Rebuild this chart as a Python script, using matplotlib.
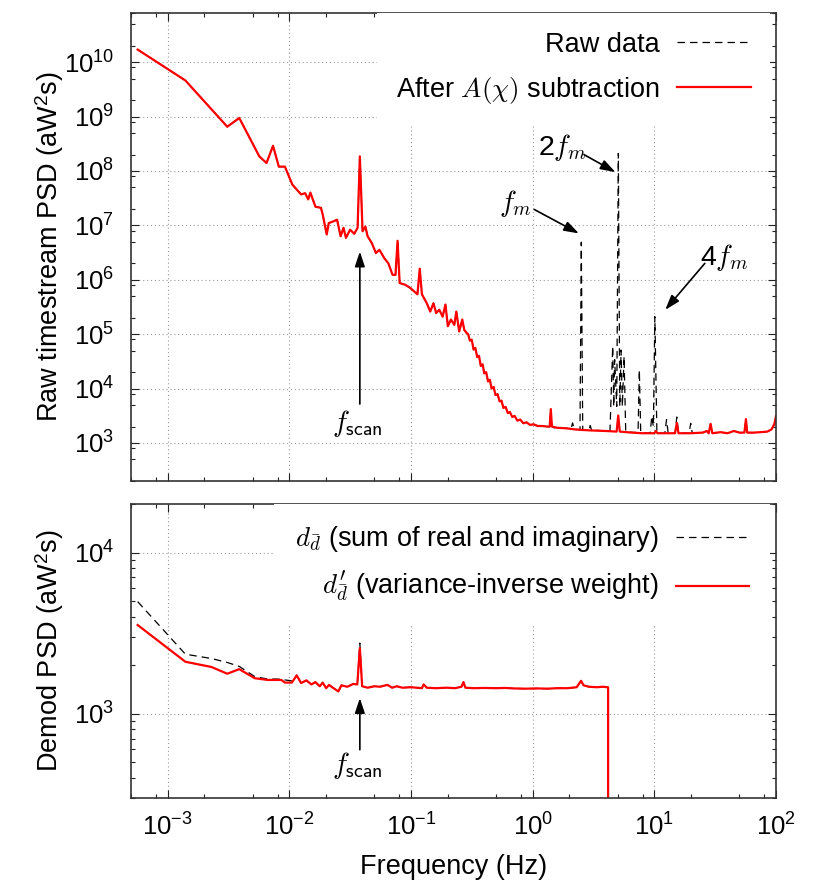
import numpy as np
import matplotlib
matplotlib.use("Agg")
import matplotlib.pyplot as plt
from matplotlib.ticker import LogLocator, NullFormatter

plt.rcParams['font.family'] = ['Liberation Sans', 'DejaVu Sans']
plt.rcParams['mathtext.fontset'] = 'custom'
plt.rcParams['mathtext.rm'] = 'Liberation Sans'
plt.rcParams['mathtext.sf'] = 'Liberation Sans'
plt.rcParams['mathtext.it'] = 'Liberation Serif:italic'
plt.rcParams['mathtext.bf'] = 'Liberation Sans:bold'

# ---------------- data ----------------
# Top panel: PSD after A(chi) subtraction (red)
after_freq = [5.67e-4, 1.40e-3, 3.09e-3, 3.88e-3, 5.67e-3, 6.5e-3, 7.35e-3, 8.2e-3, 9.2e-3,
              1.06e-2, 1.25e-2, 1.35e-2, 1.43e-2, 1.49e-2, 1.64e-2, 1.82e-2, 1.88e-2, 2.03e-2, 2.11e-2,
              2.34e-2, 2.47e-2, 2.64e-2, 2.79e-2, 2.92e-2, 3.16e-2, 3.42e-2, 3.64e-2, 3.80e-2, 4.00e-2,
              4.22e-2, 4.40e-2, 4.76e-2, 5.15e-2, 5.50e-2, 6.03e-2, 6.52e-2, 7.06e-2, 7.46e-2, 7.76e-2,
              8.07e-2, 8.95e-2, 9.84e-2, 0.109, 0.113, 0.118, 0.123, 0.135, 0.144, 0.153, 0.161, 0.171,
              0.182, 0.192, 0.201, 0.213, 0.227, 0.236, 0.249, 0.264, 0.274, 0.287,
              0.295, 0.305, 0.316, 0.327, 0.338, 0.350, 0.362, 0.375, 0.388, 0.40, 0.415, 0.43, 0.445,
              0.46, 0.478, 0.495, 0.515, 0.535, 0.555, 0.575, 0.60, 0.625, 0.65, 0.68, 0.71, 0.75, 0.79,
              0.84, 0.89, 0.95, 1.02, 1.10, 1.20, 1.32, 1.38, 1.41, 1.44, 1.6, 1.9, 2.2, 2.5, 3.0, 4.0,
              4.9, 5.05, 5.2, 6.5, 8.0, 10.0, 10.3, 10.6, 12.0, 14.8, 15.3, 15.8, 20, 25, 27, 28, 29, 30,
              35, 40, 45, 50, 55, 56.6, 58, 65, 75, 85, 92, 97, 100]
after_psd = [1.7e10, 4.6e9, 6.5e8, 9.4e8, 1.85e8, 1.4e8, 2.9e8, 1.2e8, 1.2e8,
             5.6e7, 3.7e7, 3.9e7, 3.0e7, 4.0e7, 2.2e7, 2.1e7, 1.6e7, 6.8e6, 1.1e7,
             1.2e7, 1.27e7, 6.3e6, 9.0e6, 5.9e6, 8.3e6, 7.0e6, 9.0e6, 1.85e8, 7.8e6,
             9.5e6, 6.3e6, 4.75e6, 3.1e6, 3.55e6, 2.5e6, 2.0e6, 1.23e6, 1.23e6, 5.2e6,
             8.7e5, 8.1e5, 7.1e5, 5.8e5, 5.4e5, 1.6e6, 5.4e5, 3.7e5, 2.6e5, 3.7e5, 2.45e5, 2.8e5,
             2.1e5, 3.5e5, 1.4e5, 1.86e5, 1.48e5, 2.6e5, 1.12e5, 1.86e5, 1.2e5, 1.05e5,
             1.0e5, 7.6e4, 7.9e4, 5.2e4, 5.6e4, 3.8e4, 4.0e4, 2.6e4, 2.8e4, 1.9e4, 2.0e4, 1.35e4, 1.45e4,
             1.0e4, 1.07e4, 7.6e3, 7.9e3, 5.8e3, 6.0e3, 4.4e3, 4.6e3, 3.55e3, 3.7e3, 3.0e3, 3.15e3, 2.57e3, 2.7e3,
             2.3e3, 2.4e3, 2.15e3, 2.2e3, 2.05e3, 2.05e3, 2.0e3, 2.0e3, 4.2e3, 2.0e3, 1.9e3, 1.86e3, 1.78e3, 1.74e3, 1.7e3, 1.66e3,
             1.62e3, 3.2e3, 1.62e3, 1.55e3, 1.51e3, 1.51e3, 1.66e3, 1.51e3, 1.51e3, 1.51e3, 2.34e3, 1.51e3, 1.51e3, 1.55e3, 1.66e3, 1.51e3, 2.24e3, 1.51e3,
             1.58e3, 1.51e3, 1.66e3, 1.55e3, 1.55e3, 2.75e3, 1.55e3, 1.55e3, 1.58e3, 1.62e3, 1.78e3, 2.24e3, 3.1e3]

# Top panel: raw data (black dashed) where it departs from the red curve (1.5 - 21 Hz)
raw_hf_freq = [1.5, 2.07, 2.13, 2.19, 2.45, 2.51, 2.58, 2.9, 2.97, 3.05, 4.32, 4.55, 4.64, 4.72,
               4.91, 5.06, 5.2, 5.33, 5.46, 5.64, 5.82, 7.35, 7.53, 7.73, 9.25, 9.53, 9.82, 10.1,
               10.5, 12.2, 12.6, 13.0, 14.8, 15.3, 15.8, 19.3, 19.9, 20.5]
raw_hf_psd = [1.9e3, 1.84e3, 2.34e3, 1.8e3, 1.75e3, 4.9e6, 1.74e3, 1.72e3, 2.1e3, 1.72e3, 1.66e3,
              6.0e4, 4.7e3, 3.4e4, 4.7e3, 2.1e8, 4.7e3, 5.1e4, 4.7e3, 3.9e4, 1.6e3, 1.55e3, 2.2e4,
              1.55e3, 1.52e3, 3.1e3, 2.0e3, 2.1e5, 1.52e3, 1.51e3, 2.7e3, 1.51e3, 1.51e3, 3.0e3,
              1.51e3, 1.51e3, 2.3e3, 1.51e3]

# Bottom panel: demodulated PSD, variance-inverse weight (red)
demod_w_freq = [5.67e-4, 1.40e-3, 2.29e-3, 3.09e-3, 3.88e-3, 5.2e-3, 6.65e-3, 8.6e-3, 9.2e-3, 1.05e-2,
                1.15e-2, 1.25e-2, 1.38e-2, 1.52e-2, 1.64e-2, 1.78e-2, 1.88e-2, 2.01e-2, 2.12e-2, 2.25e-2,
                2.53e-2, 2.68e-2, 3.0e-2, 3.35e-2, 3.62e-2, 3.80e-2, 3.97e-2, 4.4e-2, 5.0e-2, 5.57e-2,
                6.4e-2, 7.0e-2, 7.64e-2, 8.5e-2, 0.1, 0.123, 0.127, 0.135, 0.16, 0.197,
                0.23, 0.26, 0.27, 0.28, 0.33, 0.40, 0.5, 0.593, 0.7, 0.88,
                1.1, 1.31, 1.6, 1.94, 2.3, 2.5, 2.62, 2.9, 3.37, 3.8, 4.08, 4.17, 4.17]
demod_w_psd = [3550, 2100, 1950, 1770, 1890, 1660, 1620, 1620, 1560, 1560,
               1730, 1550, 1610, 1520, 1570, 1480, 1560, 1440, 1510, 1460,
               1375, 1500, 1470, 1530, 1520, 2550, 1480, 1450, 1480, 1470,
               1510, 1450, 1480, 1450, 1460, 1440, 1520, 1450, 1440, 1450,
               1440, 1470, 1570, 1450, 1440, 1445, 1440, 1445, 1435, 1430,
               1435, 1430, 1440, 1440, 1460, 1600, 1500, 1470, 1460, 1470, 1460, 1460, 1.0]

# Bottom panel: sum of real and imaginary (black dashed), parts that differ from red
demod_sum_low_freq = [5.67e-4, 1.40e-3, 2.29e-3, 3.09e-3, 3.88e-3, 5.2e-3, 6.65e-3, 8.6e-3, 9.2e-3, 1.05e-2]
demod_sum_low_psd = [4960, 2340, 2200, 2080, 1965, 1700, 1640, 1640, 1620, 1600]
demod_sum_peak_freq = [3.62e-2, 3.80e-2, 3.97e-2]
demod_sum_peak_psd = [1520, 2740, 1480]

# ---------------- assemble series ----------------
af = np.array(after_freq); ap = np.array(after_psd)
raw_f = np.concatenate([af[af < 1.5], raw_hf_freq, af[af > 21]])
raw_p = np.concatenate([ap[af < 1.5], raw_hf_psd, ap[af > 21]])

wf = np.array(demod_w_freq); wp = np.array(demod_w_psd)
mid = (wf > 1.05e-2) & (wf < 3.6e-2)
hi = wf > 4.0e-2
sum_f = np.concatenate([demod_sum_low_freq, wf[mid], demod_sum_peak_freq, wf[hi]])
sum_p = np.concatenate([demod_sum_low_psd, wp[mid], demod_sum_peak_psd, wp[hi]])

# ---------------- figure ----------------
W, H = 817, 882
fig = plt.figure(figsize=(W / 100, H / 100), dpi=100)
ax1 = fig.add_axes([131 / W, 1 - 481 / H, 645 / W, 468 / H])
ax2 = fig.add_axes([131 / W, 1 - 798 / H, 645 / W, 294 / H])

RED = '#ff0000'
dash_kw = dict(color='black', lw=0.9, dashes=(6, 4))
FS = 19.5
TFS = 18.5

for ax in (ax1, ax2):
    ax.set_xscale('log')
    ax.set_yscale('log')
    ax.set_xlim(5.0e-4, 100)
    ax.xaxis.set_major_locator(LogLocator(base=10, numticks=20))
    ax.xaxis.set_minor_locator(LogLocator(base=10, subs=[2, 5, 8], numticks=20))
    ax.xaxis.set_minor_formatter(NullFormatter())
    ax.set_axisbelow(True)
    ax.grid(True, which='major', linestyle=(0, (1, 2.5)), color='#9a9a9a', lw=0.8)
    ax.tick_params(which='both', direction='in', top=True, right=True, color='#222222')
    ax.tick_params(which='major', length=6, width=0.8, labelsize=TFS)
    ax.tick_params(which='minor', length=3, width=0.8)
    ax.tick_params(axis='y', which='major', pad=12)
    ax.tick_params(axis='x', which='major', pad=11)
    for s in ax.spines.values():
        s.set_linewidth(1.2)
        s.set_color('#333333')

# ----- top panel -----
ax1.set_ylim(200, 8e10)
ax1.yaxis.set_major_locator(LogLocator(base=10, numticks=20))
ax1.yaxis.set_minor_locator(LogLocator(base=10, subs=[2, 5, 8], numticks=20))
ax1.yaxis.set_minor_formatter(NullFormatter())
ax1.tick_params(labelbottom=False)

ax1.plot(raw_f, raw_p, label='Raw data', **dash_kw)
ax1.plot(af, ap, color=RED, lw=1.6, label=r'After $A(\chi)$ subtraction')
ax1.set_ylabel(r'Raw timestream PSD (aW$^2$s)', fontsize=FS)
ax1.yaxis.set_label_coords(-0.1, 0.5)

leg1 = ax1.legend(loc='upper right', bbox_to_anchor=(0.99, 1.0), borderaxespad=0,
                  markerfirst=False, fontsize=FS, frameon=True, fancybox=False,
                  edgecolor='none', facecolor='white', framealpha=1,
                  handlelength=2.7, handletextpad=0.65, labelspacing=0.62, borderpad=0.7)
for t in leg1.get_texts():
    t.set_math_fontfamily('cm')

arrow_kw = dict(arrowstyle='-|>,head_length=0.6,head_width=0.2', color='black', lw=1.2,
                shrinkA=0, shrinkB=0, mutation_scale=15)
ann_kw = dict(fontsize=FS + 1, ha='center', va='center', math_fontfamily='cm')
ax1.annotate('', xy=(3.8e-2, 3.3e6), xytext=(3.8e-2, 5.2e3), arrowprops=arrow_kw)
ax1.text(3.6e-2, 2.27e3, r'$f_{\mathsf{scan}}$', **ann_kw)
ax1.annotate('', xy=(2.40, 7.1e6), xytext=(1.03, 1.96e7), arrowprops=arrow_kw)
ax1.text(0.72, 2.5e7, r'$f_m$', **ann_kw)
ax1.annotate('', xy=(4.79, 9.5e7), xytext=(2.64, 2.0e8), arrowprops=arrow_kw)
ax1.text(1.75, 2.7e8, r'2$f_m$', **ann_kw)
ax1.annotate('', xy=(12.3, 2.8e5), xytext=(26, 2.0e6), arrowprops=arrow_kw)
ax1.text(38, 2.6e6, r'4$f_m$', **ann_kw)

# ----- bottom panel -----
ax2.set_ylim(300, 2e4)
ax2.yaxis.set_major_locator(LogLocator(base=10, numticks=20))
ax2.yaxis.set_minor_locator(LogLocator(base=10, subs=np.arange(2, 10), numticks=20))
ax2.yaxis.set_minor_formatter(NullFormatter())

ax2.plot(sum_f, sum_p, label=r'$d_{\bar{d}}$ (sum of real and imaginary)', **dash_kw)
ax2.plot(wf, wp, color=RED, lw=1.6, label=r"$d_{\bar{d}}^{\prime}$ (variance-inverse weight)")
ax2.set_ylabel(r'Demod PSD (aW$^2$s)', fontsize=FS)
ax2.yaxis.set_label_coords(-0.1, 0.5)
ax2.set_xlabel('Frequency (Hz)', fontsize=FS)
ax2.xaxis.set_label_coords(0.5, -0.19)

leg2 = ax2.legend(loc='upper right', bbox_to_anchor=(0.99, 1.0), borderaxespad=0,
                  markerfirst=False, fontsize=FS, frameon=True, fancybox=False,
                  edgecolor='none', facecolor='white', framealpha=1,
                  handlelength=2.7, handletextpad=0.65, labelspacing=0.55, borderpad=0.75)
for t in leg2.get_texts():
    t.set_math_fontfamily('cm')

ax2.annotate('', xy=(3.8e-2, 1250), xytext=(3.8e-2, 598), arrowprops=arrow_kw)
ax2.text(3.6e-2, 478, r'$f_{\mathsf{scan}}$', **ann_kw)

fig.savefig('out.png', dpi=100)
